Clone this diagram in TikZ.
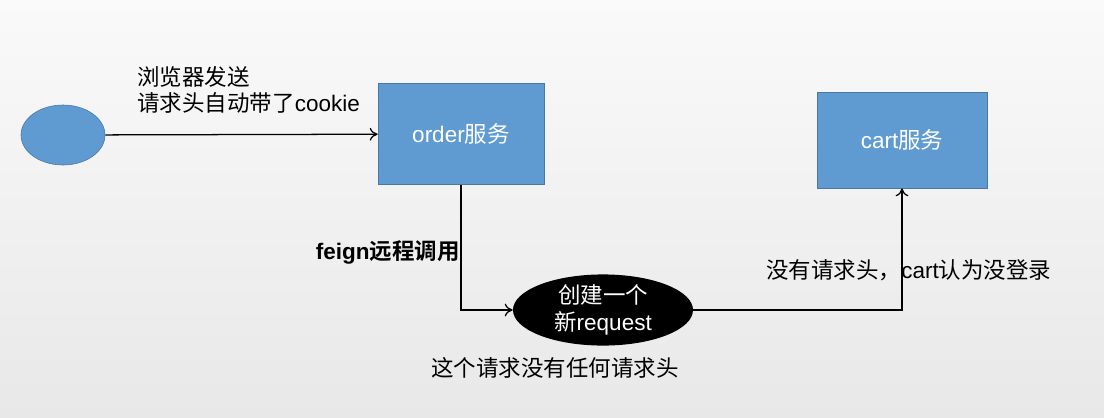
\documentclass[tikz,border=0pt]{standalone}
\usepackage{fontspec}
\setmainfont{Liberation Sans}
\newfontfamily\cjk[BoldFont={Noto Sans CJK SC Bold}]{Noto Sans CJK SC}
\newcommand{\zh}[1]{{\cjk #1}}
\usetikzlibrary{positioning,shapes.geometric,arrows.meta}
\definecolor{boxblue}{HTML}{5F9BD0}
\definecolor{boxline}{HTML}{4A76A8}

\begin{document}
\begin{tikzpicture}
    [
    x=0.025cm, y=-0.025cm,
    service/.style={rectangle,draw=boxline,fill=boxblue,text=white,font=\fontsize{16}{19}\selectfont},
    client/.style={ellipse,draw=boxline,fill=boxblue,inner sep=0pt},
    request/.style={ellipse,fill=black,text=white,inner sep=0pt,align=center,font=\fontsize{16}{19}\selectfont},
    note/.style={font=\fontsize{16}{19}\selectfont,inner sep=0pt},
    flow/.style={-{To[length=2mm,width=3.2mm]},line width=0.9pt},
    ]
    \useasboundingbox (0,0) rectangle (1104,417);
    \fill [top color=white!98!black, bottom color=white!91!black] (0,0) rectangle (1104,417);

    \node (browser) at (63,135) [client, minimum width=2.1cm, minimum height=1.5cm] {};
    \node (order) at (461,134) [service, minimum width=4.15cm, minimum height=2.525cm] {order\zh{服务}};
    \node (cart) at (902,140) [service, minimum width=4.25cm, minimum height=2.4cm] {cart\zh{服务}};
    \node (req) at (603,310) [request, minimum width=4.5cm, minimum height=1.7cm] {\zh{创建一个}\\\zh{新}request};

    \draw [flow] (browser) to (order);
    \draw [flow] (order.south) |- (req.west);
    \draw [flow] (req.east) -| (cart.south);

    \node (send) at (137,90) [note, anchor=west, align=left] {\zh{浏览器发送}\\\zh{请求头自动带了}cookie};
    \node (feign) at (460,252) [note, anchor=east, font=\fontsize{16}{19}\selectfont\bfseries] {feign\zh{远程调用}};
    \node (nologin) at (766,270) [note, anchor=west] {\zh{没有请求头，}cart\zh{认为没登录}};
    \node (noheader) at (555,368) [note] {\zh{这个请求没有任何请求头}};
  \end{tikzpicture}
\end{document}
